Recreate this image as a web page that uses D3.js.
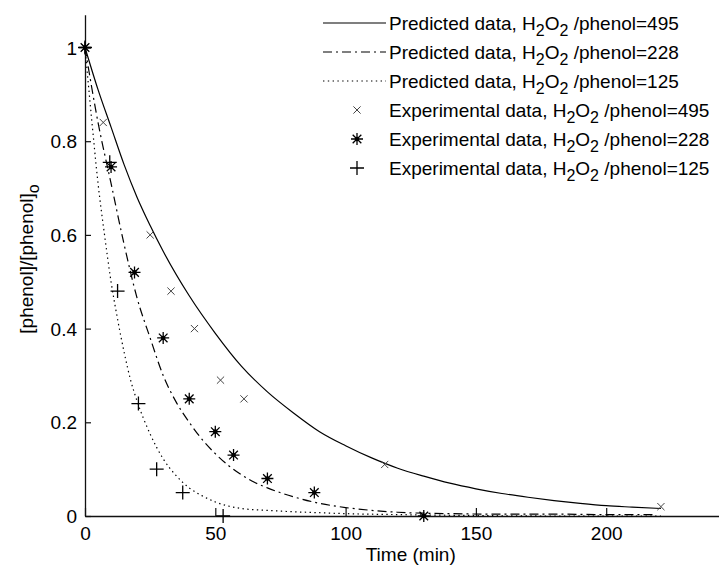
<!DOCTYPE html>
<html>
<head>
<meta charset="utf-8">
<script src="https://cdn.jsdelivr.net/npm/d3@7"></script>
<style>
    body { margin: 0; background: #fff; }
    text { font-family: "Liberation Sans", Arial, sans-serif; font-size: 19px; fill: #000; }
</style>
</head>
<body>
<div id="container"></div>
<script>
// predicted curves
const predT495 = [0, 5, 10, 15, 20, 25, 30, 40, 50, 60, 70, 80, 90, 100, 110, 120, 130, 140, 150, 160, 170, 180, 190, 200, 210, 221];
const predY495 = [1, 0.91, 0.83, 0.75, 0.68, 0.62, 0.565, 0.47, 0.39, 0.32, 0.265, 0.22, 0.18, 0.15, 0.124, 0.102, 0.085, 0.07, 0.058, 0.048, 0.04, 0.033, 0.027, 0.022, 0.019, 0.016];

const predT228 = [0, 5, 10, 15, 20, 25, 30, 35, 40, 45, 50, 55, 60, 65, 70, 80, 90, 100, 110, 120, 140, 160, 180, 200, 219];
const predY228 = [1, 0.84, 0.71, 0.58, 0.465, 0.38, 0.30, 0.243, 0.2, 0.163, 0.133, 0.108, 0.088, 0.072, 0.06, 0.041, 0.027, 0.018, 0.012, 0.008, 0.005, 0.004, 0.004, 0.003, 0.003];

const predT125 = [0, 2.5, 5, 7.5, 10, 12.5, 15, 17.5, 20, 25, 30, 35, 40, 45, 50, 60, 70, 80, 90, 100, 120, 150, 180, 221];
const predY125 = [1, 0.85, 0.71, 0.6, 0.5, 0.42, 0.35, 0.29, 0.245, 0.175, 0.122, 0.086, 0.06, 0.043, 0.03, 0.016, 0.012, 0.009, 0.007, 0.005, 0.003, 0.001, 0, 0];

// experimental points
const expT495 = [0, 7, 25, 33, 42, 52, 61, 115, 221];
const expY495 = [1, 0.84, 0.60, 0.48, 0.40, 0.29, 0.25, 0.11, 0.02];

const expT228 = [0, 10, 19, 30, 40, 50, 57, 70, 88, 130];
const expY228 = [1, 0.745, 0.52, 0.38, 0.25, 0.18, 0.13, 0.08, 0.05, 0];

const expT125 = [0, 9.5, 12.5, 20.5, 27.5, 37.5, 53];
const expY125 = [1, 0.755, 0.48, 0.24, 0.10, 0.05, 0];

const xTicks = [0, 50, 100, 150, 200];
const yTicks = [0, 0.2, 0.4, 0.6, 0.8, 1];
const ratios = ["495", "228", "125"];

const width = 719, height = 568;

const svg = d3.select('#container')
    .append('svg')
        .attr('width', width)
        .attr('height', height);

var x = d3.scaleLinear().domain([0, 250]).range([85, 736.5]);
var y = d3.scaleLinear().domain([0, 1.07]).range([516, 14.7]);

const zip = (ts, ys) => ts.map((t, i) => ({ t: t, v: ys[i] }));

// axes (ticks inward, no box)
const gx = svg.append('g')
    .attr('transform', `translate(0,${y(0)})`)
    .call(d3.axisBottom(x).tickValues(xTicks).tickSizeInner(-8).tickSizeOuter(0).tickPadding(11).tickFormat(d3.format('d')));
const gy = svg.append('g')
    .attr('transform', `translate(${x(0)},0)`)
    .call(d3.axisLeft(y).tickValues(yTicks).tickSizeInner(-6).tickSizeOuter(0).tickPadding(8).tickFormat(d => d));

[gx, gy].forEach(g => {
    g.select('.domain').attr('stroke', '#111').attr('stroke-width', 1.3);
    g.selectAll('.tick line').attr('stroke', '#111').attr('stroke-width', 1.2);
    g.selectAll('.tick text').style('font-size', '19px').style('font-family', '"Liberation Sans", Arial, sans-serif').attr('fill', '#000');
});
gy.selectAll('.tick text').attr('dy', '0.35em');

// predicted curves
const line = d3.line()
    .x(d => x(d.t))
    .y(d => y(d.v))
    .curve(d3.curveMonotoneX);

const curveStyles = [
    { data: zip(predT495, predY495), dash: null },
    { data: zip(predT228, predY228), dash: '9,4,2,4' },
    { data: zip(predT125, predY125), dash: '1.4,3.4' }
];

curveStyles.forEach(c => {
    svg.append('path')
        .attr('d', line(c.data))
        .attr('fill', 'none')
        .attr('stroke', '#000')
        .attr('stroke-width', 1.2)
        .attr('stroke-dasharray', c.dash);
});

// marker shapes
function timesPath(r) {
    return `M${-r},${-r}L${r},${r}M${-r},${r}L${r},${-r}`;
}
function plusPath(r) {
    return `M${-r},0L${r},0M0,${-r}L0,${r}`;
}
function starPath(r) {
    var q = r * 0.72;
    return plusPath(r) + timesPath(q);
}

const markerSets = [
    { data: zip(expT495, expY495), path: timesPath(3.6), stroke: '#444', sw: 1 },
    { data: zip(expT228, expY228), path: starPath(6), stroke: '#000', sw: 1.3, dot: true },
    { data: zip(expT125, expY125), path: plusPath(7), stroke: '#000', sw: 1.3 }
];

markerSets.forEach(m => {
    var g = svg.append('g');
    g.selectAll('path')
        .data(m.data)
        .enter()
        .append('path')
            .attr('transform', d => `translate(${x(d.t)},${y(d.v)})`)
            .attr('d', m.path)
            .attr('fill', 'none')
            .attr('stroke', m.stroke)
            .attr('stroke-width', m.sw);
    if (m.dot) {
        g.selectAll('circle')
            .data(m.data)
            .enter()
            .append('circle')
                .attr('cx', d => x(d.t))
                .attr('cy', d => y(d.v))
                .attr('r', 2.3)
                .attr('fill', '#000');
    }
});

// axis labels
svg.append('text')
    .attr('x', (x.range()[0] + x.range()[1]) / 2)
    .attr('y', 561)
    .attr('text-anchor', 'middle')
    .text('Time (min)');

const yl = svg.append('text')
    .attr('transform', `translate(33,259) rotate(-90)`)
    .attr('text-anchor', 'middle');
yl.append('tspan').text('[phenol]/[phenol]');
yl.append('tspan').attr('dy', 6).style('font-size', '16px').text('o');

// legend
const legendRows = [
    { kind: 'Predicted data, H', type: 'line', dash: null },
    { kind: 'Predicted data, H', type: 'line', dash: '9,4,2,4' },
    { kind: 'Predicted data, H', type: 'line', dash: '1.4,3.4' },
    { kind: 'Experimental data, H', type: 'mark', m: markerSets[0] },
    { kind: 'Experimental data, H', type: 'mark', m: markerSets[1] },
    { kind: 'Experimental data, H', type: 'mark', m: markerSets[2] }
];
const rowY = [23, 52, 81, 110, 139, 168];
const markX = 357;

const legend = svg.append('g').attr('id', 'legend');

legendRows.forEach((r, i) => {
    var ry = rowY[i];
    if (r.type === 'line') {
        legend.append('line')
            .attr('x1', 323).attr('x2', 386)
            .attr('y1', ry).attr('y2', ry)
            .attr('stroke', '#000')
            .attr('stroke-width', 1.2)
            .attr('stroke-dasharray', r.dash);
    } else {
        legend.append('path')
            .attr('transform', `translate(${markX},${ry})`)
            .attr('d', r.m.path)
            .attr('fill', 'none')
            .attr('stroke', r.m.stroke)
            .attr('stroke-width', r.m.sw);
        if (r.m.dot) {
            legend.append('circle').attr('cx', markX).attr('cy', ry).attr('r', 2.3).attr('fill', '#000');
        }
    }
    var t = legend.append('text')
        .attr('x', 389)
        .attr('y', ry + 7);
    t.append('tspan').text(r.kind);
    t.append('tspan').attr('dy', 6).style('font-size', '16px').text('2');
    t.append('tspan').attr('dy', -6).text('O');
    t.append('tspan').attr('dy', 6).style('font-size', '16px').text('2');
    t.append('tspan').attr('dy', -6).text(' /phenol=' + ratios[i % 3]);
});
</script>
</body>
</html>
